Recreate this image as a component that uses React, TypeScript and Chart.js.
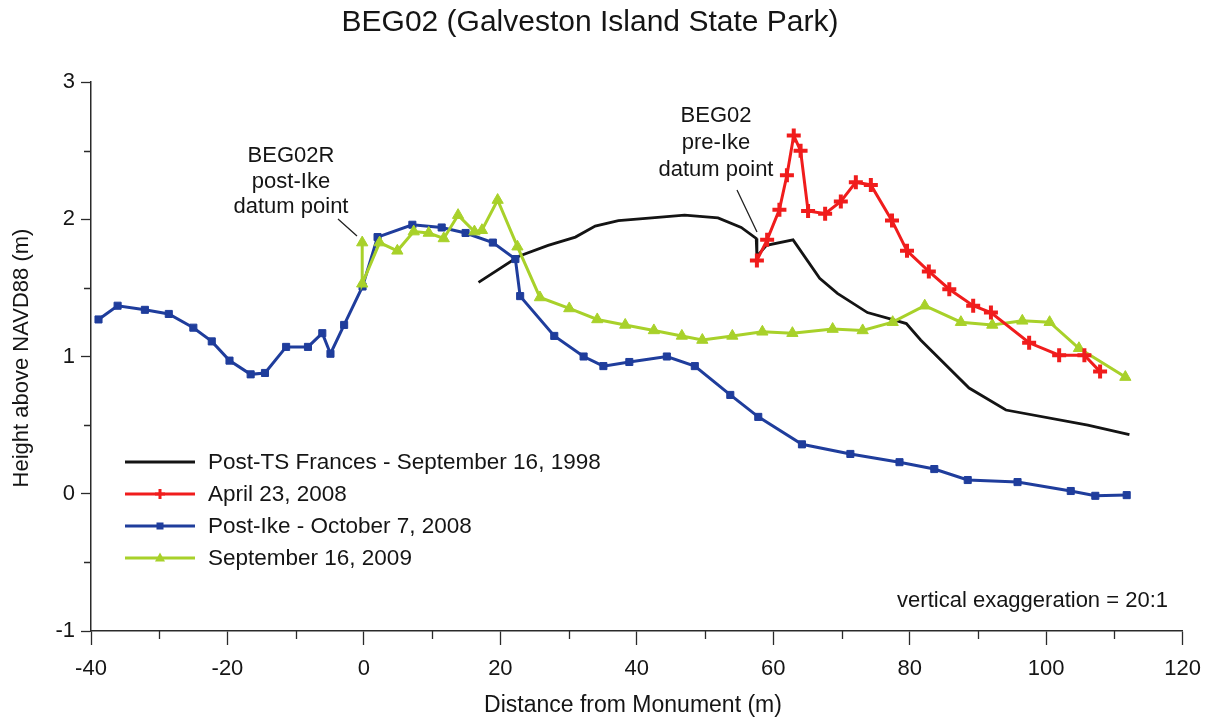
import React, { useEffect, useRef } from 'react';
import { Chart, registerables } from 'chart.js';

Chart.register(...registerables);

const TITLE = 'BEG02 (Galveston Island State Park)';
const X_TITLE = 'Distance from Monument (m)';
const Y_TITLE = 'Height above NAVD88 (m)';
const SERIES_NAMES = [
  'Post-TS Frances - September 16, 1998',
  'April 23, 2008',
  'Post-Ike - October 7, 2008',
  'September 16, 2009',
];
const NOTE_LEFT = ['BEG02R', 'post-Ike', 'datum point'];
const NOTE_RIGHT = ['BEG02', 'pre-Ike', 'datum point'];
const NOTE_EXAG = 'vertical exaggeration = 20:1';

const X_MIN = -40;
const X_MAX = 120;
const Y_MIN = -1;
const Y_MAX = 3;

// Post-TS Frances - September 16, 1998 (black, no markers)
const frances1998X = [16.8, 22.7, 27.0, 31.0, 33.9, 37.3, 42.2, 47.0, 51.9, 55.3, 57.5, 57.6, 59.0, 62.9, 66.8, 69.4, 73.8, 77.4, 79.5, 81.6, 88.7, 94.1, 106.1, 112.2];
const frances1998Y = [1.54, 1.73, 1.81, 1.87, 1.95, 1.99, 2.01, 2.03, 2.01, 1.94, 1.86, 1.73, 1.81, 1.85, 1.57, 1.46, 1.32, 1.27, 1.24, 1.12, 0.77, 0.61, 0.5, 0.43];

// April 23, 2008 (red, + markers)
const april2008X = [57.6, 59.1, 60.9, 62.0, 63.0, 64.0, 65.1, 67.6, 69.9, 72.1, 74.3, 77.4, 79.6, 82.8, 85.8, 89.3, 91.9, 97.5, 101.9, 105.6, 107.9];
const april2008Y = [1.7, 1.85, 2.07, 2.32, 2.61, 2.5, 2.06, 2.04, 2.13, 2.27, 2.25, 1.99, 1.77, 1.62, 1.49, 1.37, 1.32, 1.1, 1.01, 1.01, 0.89];

// Post-Ike - October 7, 2008 (blue, square markers)
const postIke2008X = [-38.9, -36.1, -32.1, -28.6, -25.0, -22.3, -19.7, -16.6, -14.5, -11.4, -8.2, -6.1, -4.9, -2.9, -0.2, 2.0, 7.1, 11.4, 14.9, 18.9, 22.2, 22.9, 27.9, 32.2, 35.1, 38.9, 44.4, 48.5, 53.7, 57.8, 64.2, 71.3, 78.5, 83.6, 88.5, 95.8, 103.6, 107.2, 111.8];
const postIke2008Y = [1.27, 1.37, 1.34, 1.31, 1.21, 1.11, 0.97, 0.87, 0.88, 1.07, 1.07, 1.17, 1.02, 1.23, 1.51, 1.87, 1.96, 1.94, 1.9, 1.83, 1.71, 1.44, 1.15, 1.0, 0.93, 0.96, 1.0, 0.93, 0.72, 0.56, 0.36, 0.29, 0.23, 0.18, 0.1, 0.085, 0.02, -0.015, -0.01];

// September 16, 2009 (green, triangle markers)
const sept2009X = [-0.25, -0.25, 2.3, 4.9, 7.3, 9.5, 11.7, 13.8, 16.2, 17.3, 19.6, 22.5, 25.8, 30.1, 34.2, 38.3, 42.5, 46.6, 49.6, 54.0, 58.4, 62.8, 68.7, 73.1, 77.5, 82.2, 87.5, 92.1, 96.5, 100.5, 104.8, 111.6];
const sept2009Y = [1.83, 1.53, 1.83, 1.77, 1.91, 1.9, 1.86, 2.03, 1.91, 1.92, 2.14, 1.8, 1.43, 1.35, 1.27, 1.23, 1.19, 1.15, 1.12, 1.15, 1.18, 1.17, 1.2, 1.19, 1.25, 1.37, 1.25, 1.23, 1.26, 1.25, 1.06, 0.85];

const COLORS = ['#141414', '#f01c1c', '#1f3d9c', '#a8d12a'];
const AXIS = '#2a2a2a';
const FONT = '"Liberation Sans", Arial, Helvetica, sans-serif';

function toPoints(xs: number[], ys: number[]) {
  return xs.map((x, i) => ({ x, y: ys[i] }));
}

function drawMarker(ctx: CanvasRenderingContext2D, style: string, x: number, y: number, r: number, color: string) {
  ctx.save();
  ctx.fillStyle = color;
  ctx.strokeStyle = color;
  if (style === 'cross') {
    ctx.lineWidth = 3;
    ctx.beginPath();
    ctx.moveTo(x - r, y);
    ctx.lineTo(x + r, y);
    ctx.moveTo(x, y - r);
    ctx.lineTo(x, y + r);
    ctx.stroke();
  } else if (style === 'rect') {
    ctx.fillRect(x - r, y - r, 2 * r, 2 * r);
  } else if (style === 'triangle') {
    ctx.beginPath();
    ctx.moveTo(x, y - r * 1.1);
    ctx.lineTo(x + r, y + r * 0.7);
    ctx.lineTo(x - r, y + r * 0.7);
    ctx.closePath();
    ctx.fill();
  }
  ctx.restore();
}

const overlayPlugin = {
  id: 'overlay',
  afterDraw(chart: any) {
    const ctx: CanvasRenderingContext2D = chart.ctx;
    const xs = chart.scales.x;
    const ys = chart.scales.y;
    ctx.save();

    // minor ticks
    ctx.strokeStyle = AXIS;
    ctx.lineWidth = 1.3;
    ctx.beginPath();
    xs.ticks.forEach((t: any) => {
      if (Math.abs(t.value % 20) > 1e-6) {
        const px = Math.round(xs.getPixelForValue(t.value)) + 0.5;
        ctx.moveTo(px, xs.top);
        ctx.lineTo(px, xs.top + 8);
      }
    });
    ys.ticks.forEach((t: any) => {
      if (!Number.isInteger(t.value)) {
        const py = Math.round(ys.getPixelForValue(t.value)) + 0.5;
        ctx.moveTo(ys.right - 7, py);
        ctx.lineTo(ys.right, py);
      }
    });
    ctx.stroke();

    ctx.fillStyle = '#151515';
    ctx.textAlign = 'center';
    ctx.textBaseline = 'middle';

    // title
    ctx.font = `30px ${FONT}`;
    ctx.fillText(TITLE, 590, 23);

    // axis titles
    ctx.font = `23px ${FONT}`;
    ctx.fillText(X_TITLE, 633, 706);
    ctx.save();
    ctx.translate(22, 358);
    ctx.rotate(-Math.PI / 2);
    ctx.font = `22px ${FONT}`;
    ctx.fillText(Y_TITLE, 0, 0);
    ctx.restore();

    // annotations
    ctx.font = `22px ${FONT}`;
    NOTE_LEFT.forEach((s, i) => ctx.fillText(s, 291, 156 + i * 25.5));
    NOTE_RIGHT.forEach((s, i) => ctx.fillText(s, 716, 116 + i * 27));
    ctx.strokeStyle = '#222';
    ctx.lineWidth = 1.3;
    ctx.beginPath();
    ctx.moveTo(338, 219);
    ctx.lineTo(357, 236);
    ctx.moveTo(737, 190);
    ctx.lineTo(757, 232);
    ctx.stroke();

    ctx.textAlign = 'right';
    ctx.font = `22px ${FONT}`;
    ctx.fillText(NOTE_EXAG, 1168, 601);

    // legend
    const styles = ['none', 'cross', 'rect', 'triangle'];
    const radii = [0, 5, 3.5, 5];
    ctx.font = `22.5px ${FONT}`;
    ctx.textAlign = 'left';
    SERIES_NAMES.forEach((name, i) => {
      const y = 462 + i * 32;
      ctx.strokeStyle = COLORS[i];
      ctx.lineWidth = 3;
      ctx.beginPath();
      ctx.moveTo(125, y);
      ctx.lineTo(195, y);
      ctx.stroke();
      if (styles[i] !== 'none') drawMarker(ctx, styles[i], 160, y, radii[i], COLORS[i]);
      ctx.fillStyle = '#151515';
      ctx.fillText(name, 208, y + 1);
    });

    ctx.restore();
  },
};

export default function App() {
  const canvasRef = useRef<HTMLCanvasElement | null>(null);

  useEffect(() => {
    if (!canvasRef.current) return;
    const chart = new Chart(canvasRef.current, {
      type: 'line',
      data: {
        datasets: [
          {
            label: SERIES_NAMES[0],
            data: toPoints(frances1998X, frances1998Y),
            borderColor: COLORS[0],
            backgroundColor: COLORS[0],
            borderWidth: 2.8,
            pointRadius: 0,
            order: 3,
          },
          {
            label: SERIES_NAMES[1],
            data: toPoints(april2008X, april2008Y),
            borderColor: COLORS[1],
            backgroundColor: COLORS[1],
            borderWidth: 3,
            pointStyle: 'cross',
            pointRadius: 7,
            pointBorderWidth: 4,
            order: 0,
          },
          {
            label: SERIES_NAMES[2],
            data: toPoints(postIke2008X, postIke2008Y),
            borderColor: COLORS[2],
            backgroundColor: COLORS[2],
            borderWidth: 3,
            pointStyle: 'rect',
            pointRadius: 5,
            pointBorderWidth: 1,
            order: 2,
          },
          {
            label: SERIES_NAMES[3],
            data: toPoints(sept2009X, sept2009Y),
            borderColor: COLORS[3],
            backgroundColor: COLORS[3],
            borderWidth: 3,
            pointStyle: 'triangle',
            pointRadius: 6.5,
            pointBorderWidth: 1,
            order: 1,
          },
        ],
      },
      options: {
        animation: false,
        responsive: true,
        maintainAspectRatio: false,
        parsing: false as any,
        layout: { padding: { top: 82, right: 26, left: 0, bottom: 0 } },
        plugins: {
          legend: { display: false },
          title: { display: false },
          tooltip: { enabled: false },
        },
        elements: { line: { tension: 0 } },
        scales: {
          x: {
            type: 'linear',
            min: X_MIN,
            max: X_MAX,
            afterFit: (s: any) => {
              s.height = 88;
            },
            ticks: {
              stepSize: 10,
              autoSkip: false,
              maxRotation: 0,
              padding: 11,
              color: '#151515',
              font: { family: FONT, size: 22 },
              callback: (v: any) => (Number(v) % 20 === 0 ? String(v) : ''),
            },
            grid: {
              drawOnChartArea: false,
              drawTicks: true,
              tickLength: 14,
              tickWidth: 1.3,
              tickColor: (c: any) => (c.tick && Number(c.tick.value) % 20 === 0 ? AXIS : 'rgba(0,0,0,0)'),
            },
            border: { display: true, color: AXIS, width: 1.5 },
          },
          y: {
            type: 'linear',
            min: Y_MIN,
            max: Y_MAX,
            afterFit: (s: any) => {
              s.width = 91;
            },
            ticks: {
              stepSize: 0.5,
              autoSkip: false,
              padding: 6,
              color: '#151515',
              font: { family: FONT, size: 22 },
              callback: (v: any) => (Number.isInteger(Number(v)) ? String(v) : ''),
            },
            grid: {
              drawOnChartArea: false,
              drawTicks: true,
              tickLength: 10,
              tickWidth: 1.3,
              tickColor: (c: any) => (c.tick && Number.isInteger(Number(c.tick.value)) ? AXIS : 'rgba(0,0,0,0)'),
            },
            border: { display: true, color: AXIS, width: 1.5 },
          },
        },
      },
      plugins: [overlayPlugin],
    });
    return () => chart.destroy();
  }, []);

  return (
    <div style={{ position: 'fixed', left: 0, top: 0, width: 1212, height: 719, background: '#fff' }}>
      <canvas ref={canvasRef} />
    </div>
  );
}
